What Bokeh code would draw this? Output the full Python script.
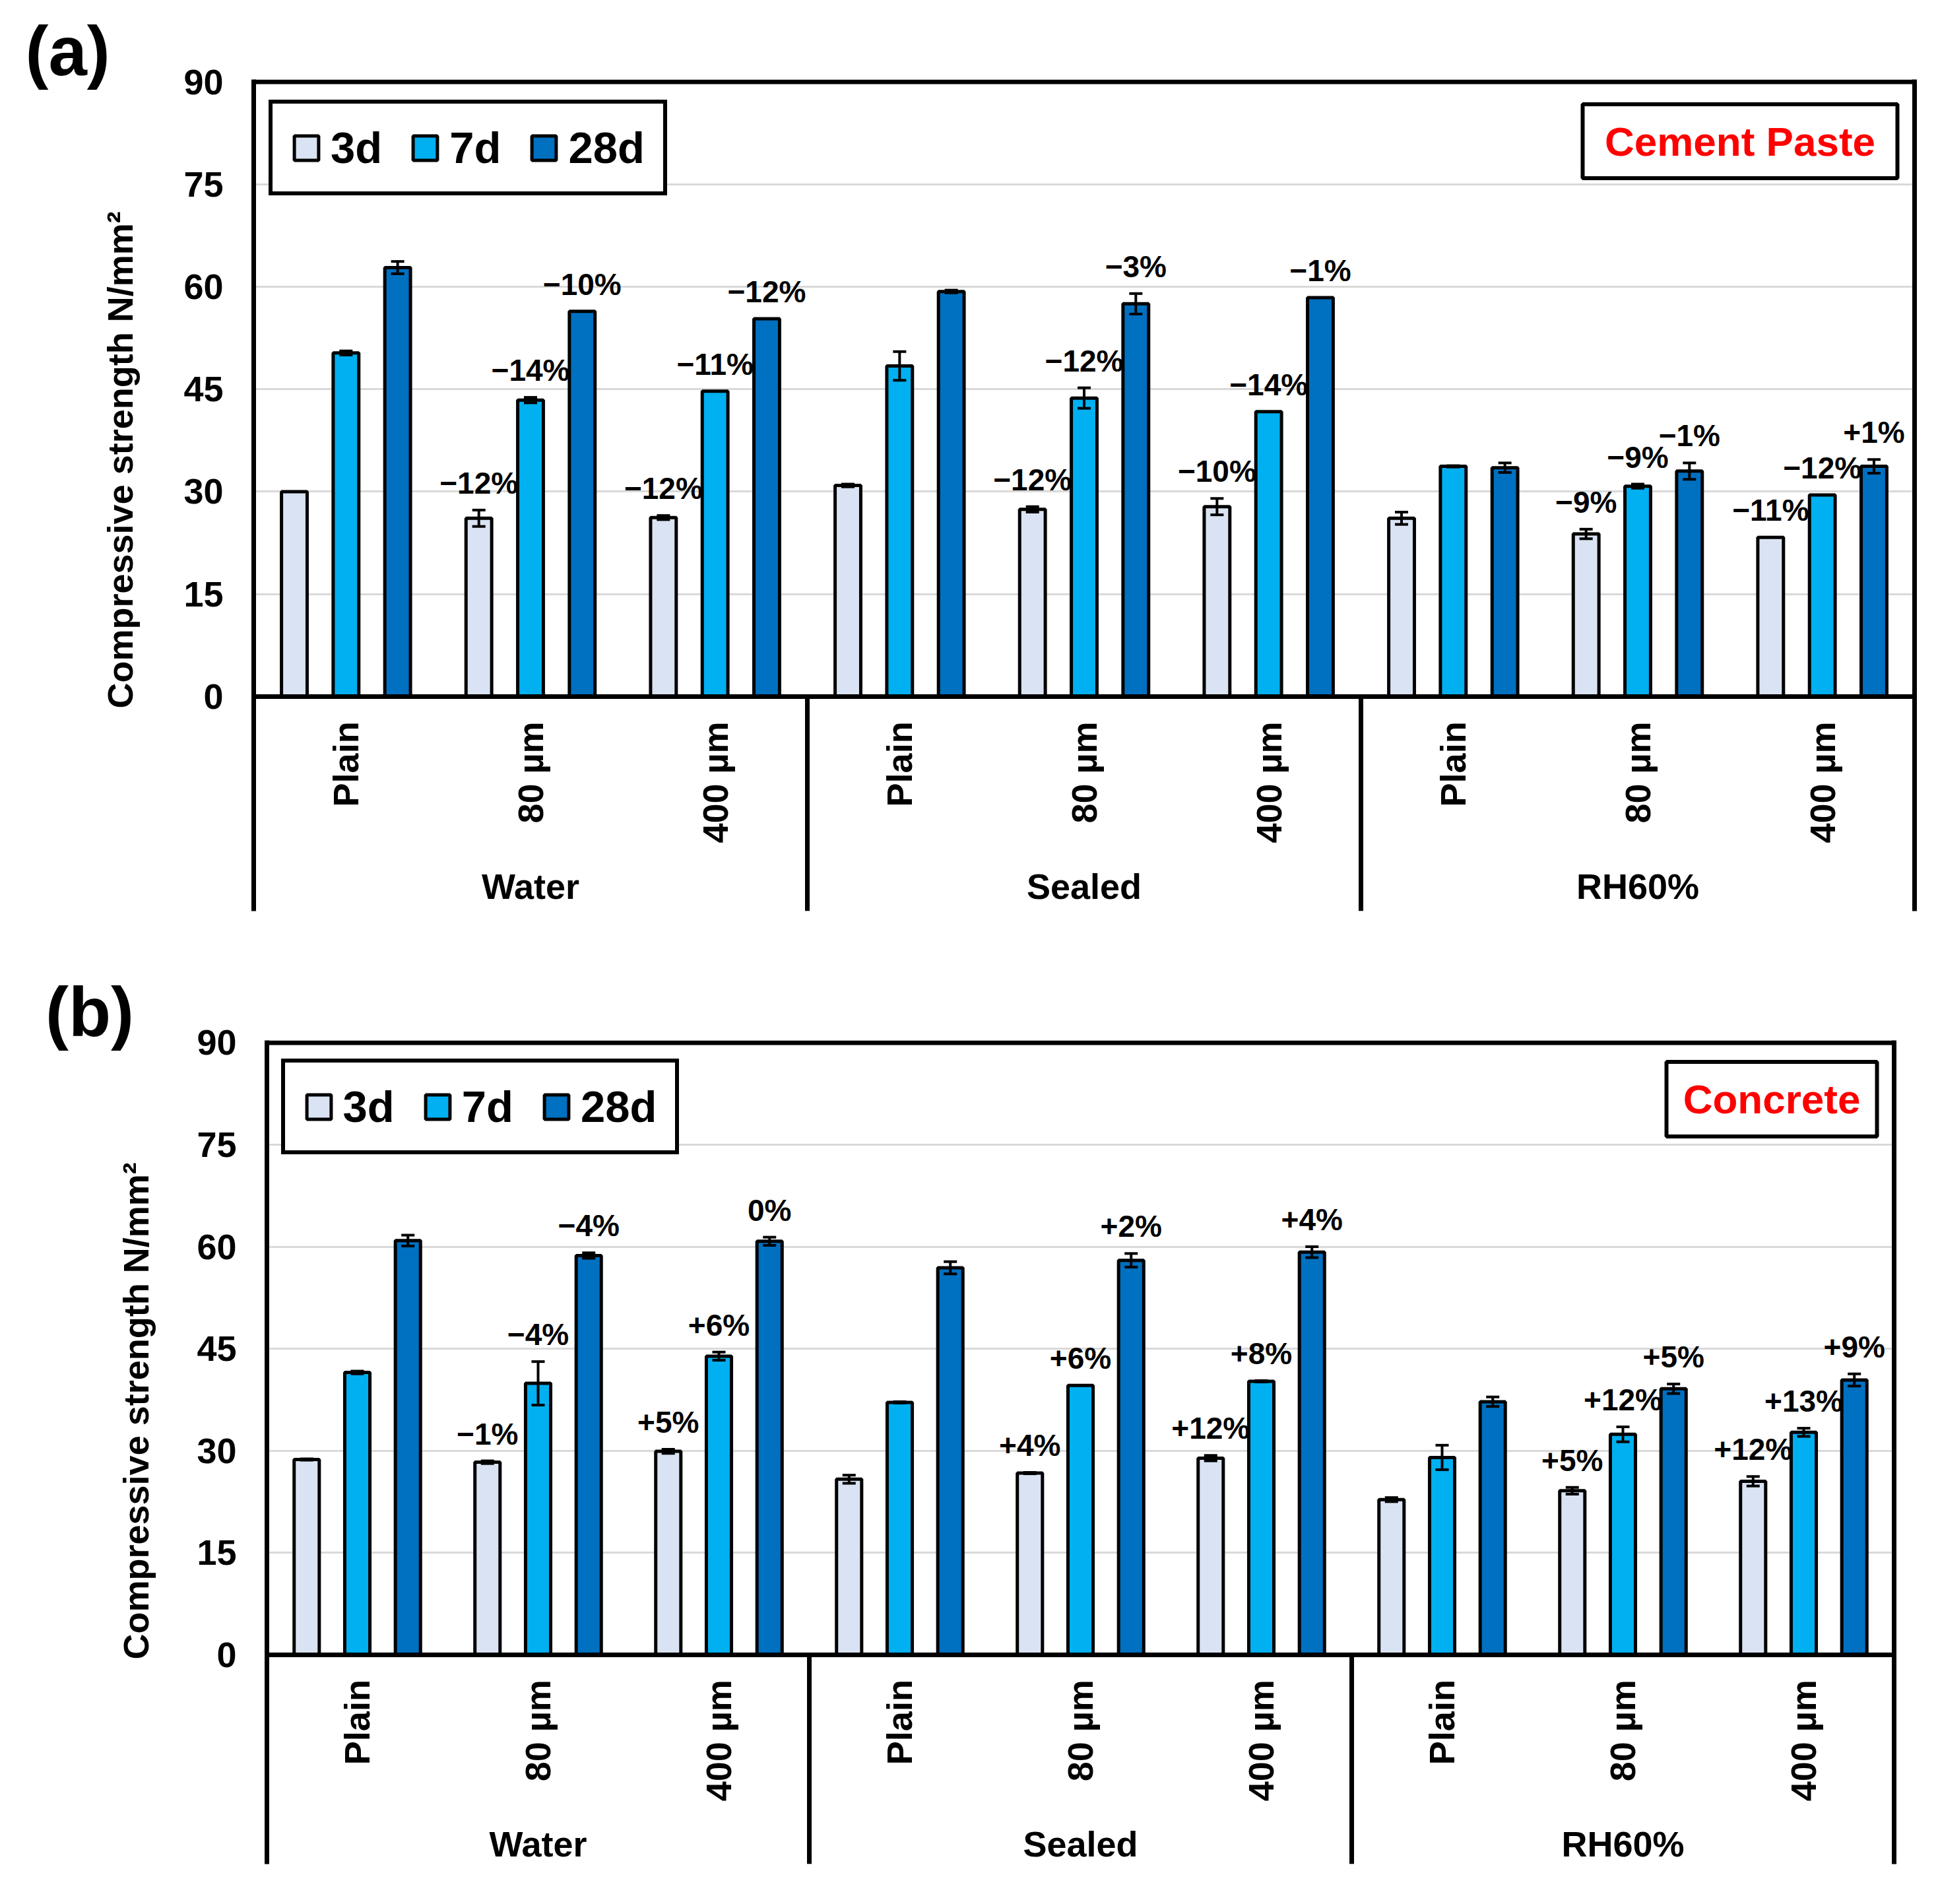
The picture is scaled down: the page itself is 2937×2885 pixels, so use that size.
import math
from bokeh.plotting import figure
from bokeh.models import (FactorRange, ColumnDataSource, Whisker, TeeHead, Legend, LegendItem,
                          Label, LinearAxis, FixedTicker, Range1d, Span, Title)
from bokeh.transform import dodge
from bokeh.embed import file_html
from bokeh.resources import INLINE
from bokeh.core.properties import value

# ---------------- data ----------------
groups = ["Water", "Sealed", "RH60%"]
cats = ["Plain", "80 µm", "400 µm"]
ages = ["3d", "7d", "28d"]
y_ticks = [0, 15, 30, 45, 60, 75, 90]

# (a) Cement paste
a_3d = [30.0, 26.1, 26.2, 30.9, 27.4, 27.8, 26.1, 23.8, 23.3]
a_7d = [50.3, 43.4, 44.7, 48.4, 43.7, 41.7, 33.7, 30.8, 29.5]
a_28d = [62.8, 56.4, 55.3, 59.3, 57.5, 58.4, 33.5, 33.0, 33.7]
a_3d_err = [0.0, 1.2, 0.3, 0.2, 0.4, 1.2, 0.9, 0.7, 0.0]
a_7d_err = [0.3, 0.4, 0.0, 2.1, 1.5, 0.0, 0.1, 0.3, 0.0]
a_28d_err = [0.9, 0.0, 0.0, 0.2, 1.5, 0.0, 0.7, 1.2, 1.0]
a_3d_lab = ["", "−12%", "−12%", "", "−12%", "−10%", "", "−9%", "−11%"]
a_7d_lab = ["", "−14%", "−11%", "", "−12%", "−14%", "", "−9%", "−12%"]
a_28d_lab = ["", "−10%", "−12%", "", "−3%", "−1%", "", "−1%", "+1%"]

# (b) Concrete
b_3d = [28.7, 28.3, 29.9, 25.8, 26.7, 28.9, 22.8, 24.1, 25.5]
b_7d = [41.5, 39.9, 43.9, 37.1, 39.6, 40.2, 29.0, 32.4, 32.7]
b_28d = [60.9, 58.7, 60.8, 56.9, 58.0, 59.2, 37.2, 39.1, 40.4]
b_3d_err = [0.1, 0.2, 0.3, 0.6, 0.1, 0.4, 0.3, 0.5, 0.7]
b_7d_err = [0.2, 3.2, 0.6, 0.1, 0.0, 0.1, 1.8, 1.1, 0.6]
b_28d_err = [0.8, 0.4, 0.6, 0.9, 1.0, 0.8, 0.7, 0.7, 0.9]
b_3d_lab = ["", "−1%", "+5%", "", "+4%", "+12%", "", "+5%", "+12%"]
b_7d_lab = ["", "−4%", "+6%", "", "+6%", "+8%", "", "+12%", "+13%"]
b_28d_lab = ["", "−4%", "0%", "", "+2%", "+4%", "", "+5%", "+9%"]

# ---------------- style ----------------
COLORS = ["#dae3f3", "#00b0f0", "#0070c0"]
FONT = "Liberation Sans"
PAGE_W = 2937
BORDER = 7


def make_panel(letter, material, vals, errs, labs, g):
    # g: geometry in page pixels
    fl, fr, top_line, fz, fb = g["left"], g["right"], g["top"], g["zero"], g["bottom"]
    oy = g["offset_y"]
    ppu = (fz - top_line) / 90.0
    ft = top_line - BORDER / 2.0
    fw = fr - fl
    fh = fb - ft
    ymin = -(fb - fz) / ppu
    ymax = 90 + (BORDER / 2.0) / ppu
    nx = len(groups) * len(cats)
    ppx = fw / nx

    def dx(px):
        return (px - fl) / ppx

    def dy(py):
        return (fz - py) / ppu

    factors = [(gr, c) for gr in groups for c in cats]
    xr = FactorRange(factors=factors, factor_padding=0, group_padding=0, range_padding=0)
    p = figure(x_range=xr, y_range=Range1d(ymin, ymax),
               frame_width=int(round(fw)), frame_height=int(round(fh)),
               min_border_left=int(round(fl)), min_border_top=int(round(ft - oy)),
               min_border_right=int(round(PAGE_W - fl - fw)),
               min_border_bottom=int(round(g["height"] - (ft - oy) - fh)),
               output_backend="svg", toolbar_location=None)
    p.outline_line_color = None
    p.background_fill_color = "white"
    p.border_fill_color = "white"

    # panel letter as a left-aligned title shifted into the left margin
    p.title.text = letter
    p.title.align = "left"
    p.title.offset = g["letter_x"] - fl
    try:
        p.title.standoff = -30
    except Exception:
        p.title.standoff = 0
    p.title.text_font = FONT
    p.title.text_font_style = "bold"
    p.title.text_font_size = "105px"
    p.title.text_color = "black"

    # y axis (left border line + tick labels)
    ya = p.yaxis[0]
    ya.ticker = FixedTicker(ticks=y_ticks)
    ya.axis_line_width = BORDER
    ya.axis_line_color = "black"
    ya.major_tick_line_color = None
    ya.minor_tick_line_color = None
    ya.major_label_text_font = FONT
    ya.major_label_text_font_style = "bold"
    ya.major_label_text_font_size = "54px"
    ya.major_label_text_color = "black"
    ya.major_label_standoff = 40

    # y axis title as a left title, starting at a given height
    p.add_layout(Title(text="Compressive strength N/mm²", align="left",
                       offset=fb - g["ytitle_start"], standoff=g["ytitle_standoff"],
                       text_font=FONT, text_font_style="bold", text_font_size="54px",
                       text_color="black"), "left")

    p.ygrid.ticker = FixedTicker(ticks=y_ticks[1:-1])
    p.ygrid.grid_line_color = "#d9d9d9"
    p.ygrid.grid_line_width = 3
    p.xgrid.grid_line_color = None

    # categorical axis drawn on the zero line
    xa = p.xaxis[0]
    xa.fixed_location = 0
    xa.axis_line_width = BORDER
    xa.axis_line_color = "black"
    xa.major_tick_line_color = None
    xa.minor_tick_line_color = None
    xa.major_label_orientation = math.pi / 2
    xa.major_label_text_font = FONT
    xa.major_label_text_font_style = "bold"
    xa.major_label_text_font_size = "54px"
    xa.major_label_text_color = "black"
    xa.major_label_standoff = 32
    xa.group_text_font = FONT
    xa.group_text_font_style = "bold"
    xa.group_text_font_size = "54px"
    xa.group_text_color = "black"
    xa.separator_line_color = None

    # right border line (axis without ticks) and top border line
    ra = LinearAxis(ticker=FixedTicker(ticks=[]), axis_line_width=BORDER, axis_line_color="black",
                    major_tick_line_color=None, minor_tick_line_color=None)
    p.add_layout(ra, "right")
    p.add_layout(Span(location=90, dimension="width", line_color="black", line_width=BORDER))

    # group separators below the zero line
    sep = ColumnDataSource(dict(x=[(gr, cats[-1], 0.5) for gr in groups[:-1]],
                                y0=[ymin] * (len(groups) - 1), y1=[0] * (len(groups) - 1)))
    p.segment(x0="x", x1="x", y0="y0", y1="y1", source=sep, line_color="black", line_width=BORDER)

    offsets = [-0.28, 0.0, 0.28]
    bw = 0.139
    renderers = []
    label_srcs = []
    for age, v, e, lab, col, off in zip(ages, vals, errs, labs, COLORS, offsets):
        src = ColumnDataSource(dict(x=factors, top=v))
        r = p.vbar(x=dodge("x", off, range=xr), top="top", width=bw, source=src,
                   fill_color=col, line_color="black", line_width=5)
        renderers.append(r)
        keep = [i for i, ee in enumerate(e) if ee > 0]
        wsrc = ColumnDataSource(dict(x=[factors[i] for i in keep],
                                     lo=[v[i] - e[i] for i in keep],
                                     hi=[v[i] + e[i] for i in keep]))
        w = Whisker(source=wsrc, base=dodge("x", off, range=xr), upper="hi", lower="lo",
                    dimension="height", line_width=4, line_color="black",
                    upper_head=TeeHead(size=20, line_width=4, line_color="black"),
                    lower_head=TeeHead(size=20, line_width=4, line_color="black"))
        w.level = "annotation"
        p.add_layout(w)
        kl = [i for i, s in enumerate(lab) if s]
        label_srcs.append((ColumnDataSource(dict(x=[factors[i] for i in kl],
                                                 hi=[v[i] + e[i] for i in kl],
                                                 lab=[lab[i] for i in kl])), off))

    for src, off in label_srcs:
        p.text(x=dodge("x", off, range=xr), y="hi", text="lab", source=src,
               text_align="center", text_baseline="bottom", y_offset=-15,
               text_font=value(FONT), text_font_style="bold", text_font_size=value("46px"),
               text_color="black")

    # legend
    leg_h = 141
    leg = Legend(items=[LegendItem(label=a, renderers=[r]) for a, r in zip(ages, renderers)],
                 orientation="horizontal",
                 location=(g["leg_left"] - fl, fh - (g["leg_top"] - ft) - leg_h - 2),
                 border_line_color="black", border_line_width=6, border_line_alpha=1.0,
                 background_fill_color="white", background_fill_alpha=1.0,
                 label_text_font=FONT, label_text_font_style="bold",
                 label_text_font_size="67px", label_text_color="black",
                 glyph_width=46, glyph_height=46, label_standoff=14, spacing=42,
                 padding=28, margin=0)
    p.add_layout(leg)

    # material box
    bx, by, bwid, bhei = g["box"]
    box = ColumnDataSource(dict(x=[dx(bx)], y=[dy(by)]))
    p.rect(x="x", y="y", width=bwid, height=bhei, width_units="screen", height_units="screen",
           source=box, fill_color="white", line_color="black", line_width=6)
    p.add_layout(Label(x=dx(bx), y=dy(by), text=material, text_align="center",
                       text_baseline="middle", text_color="#ff0000", text_font=FONT,
                       text_font_style="bold", text_font_size="62px"))
    return p


geo_a = dict(offset_y=0, height=1460, left=384, right=2901, top=124, zero=1055, bottom=1380,
             leg_left=407, leg_top=153, box=(2636.5, 214, 477, 112),
             letter_x=38, ytitle_start=1073, ytitle_standoff=128)
geo_b = dict(offset_y=1460, height=1420, left=404.5, right=2871, top=1580, zero=2507.5,
             bottom=2825, leg_left=426, leg_top=1607, box=(2685.5, 1665.5, 319, 113),
             letter_x=69, ytitle_start=2515, ytitle_standoff=120)

pa = make_panel("(a)", "Cement Paste", [a_3d, a_7d, a_28d], [a_3d_err, a_7d_err, a_28d_err],
                [a_3d_lab, a_7d_lab, a_28d_lab], geo_a)
pb = make_panel("(b)", "Concrete", [b_3d, b_7d, b_28d], [b_3d_err, b_7d_err, b_28d_err],
                [b_3d_lab, b_7d_lab, b_28d_lab], geo_b)

open("out.html", "w").write(file_html([pa, pb], INLINE))
